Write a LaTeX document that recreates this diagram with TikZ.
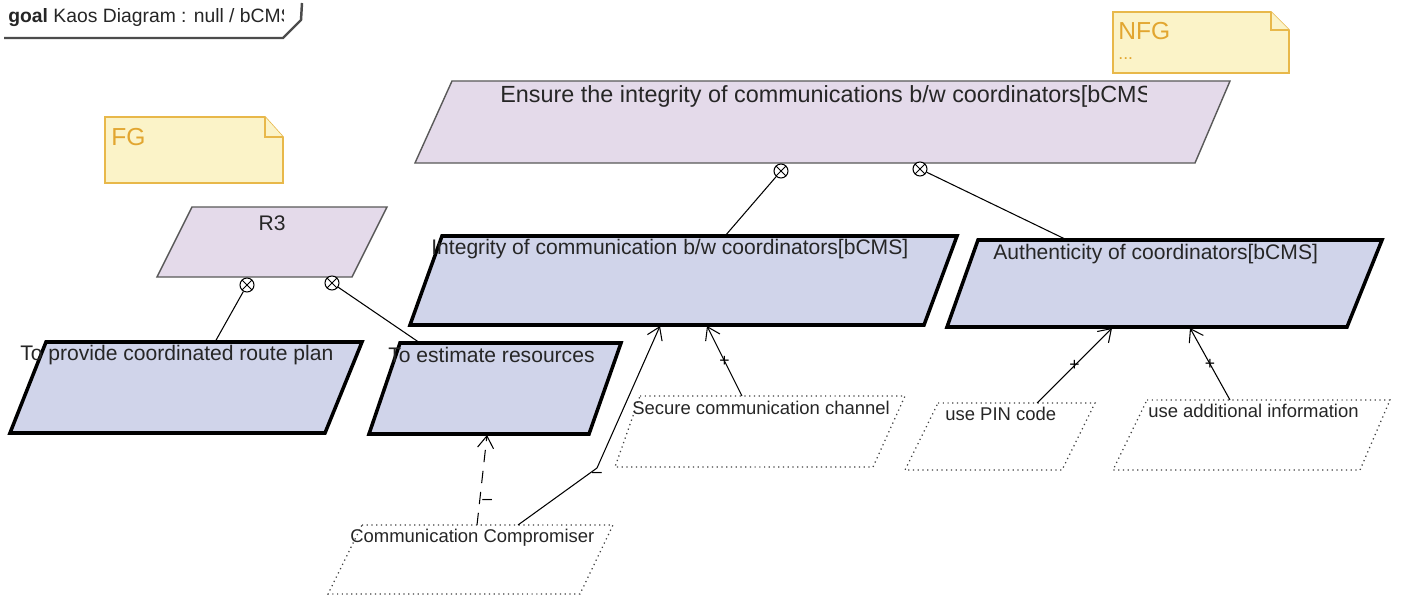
\documentclass[tikz,border=0pt]{standalone}
\usepackage{fontspec}
\setmainfont{Liberation Sans}
\usetikzlibrary{arrows.meta}
\definecolor{goalblue}{RGB}{208,212,234}
\definecolor{goallav}{RGB}{228,218,234}
\definecolor{notefill}{RGB}{251,243,200}
\definecolor{noteline}{RGB}{232,184,74}
\definecolor{notetext}{RGB}{226,166,48}
\begin{document}
\begin{tikzpicture}[x=0.02cm,y=-0.02cm,
    softgoal/.style={fill=goallav,draw=black!65,line width=0.8pt},
    leafgoal/.style={fill=goalblue,draw=black,line width=2pt},
    obstacle/.style={draw=black!75,dotted,line width=0.7pt},
    notebox/.style={fill=notefill,draw=noteline,line width=0.9pt},
    lbl/.style={anchor=west,inner sep=0pt,text=black!85,font=\fontsize{12}{14}\selectfont},
    smalllbl/.style={lbl,font=\fontsize{10.5}{12}\selectfont},
    notelbl/.style={anchor=west,inner sep=0pt,text=notetext,font=\fontsize{14}{16}\selectfont},
    refine/.style={circle,draw,fill=white,line width=0.6pt,minimum size=0.28cm,inner sep=0pt,
        path picture={\draw[line width=0.5pt]
            (path picture bounding box.north west) -- (path picture bounding box.south east)
            (path picture bounding box.north east) -- (path picture bounding box.south west);}},
    link/.style={line width=0.6pt},
    contrib/.style={line width=0.6pt,-{Straight Barb[length=2.4mm,width=3.2mm]}},
    sign/.style={inner sep=1pt,font=\fontsize{10}{10}\selectfont}]

    \useasboundingbox[fill=white] (0,0) rectangle (1406,598);

    % Draw the diagram tab
    \begin{scope}
        \clip (0,0) rectangle (283,40);
        \node[lbl,font=\fontsize{11}{13}\selectfont] (title) at (8,18) {\textbf{goal} Kaos Diagram : null / bCMS};
    \end{scope}
    \draw[line width=1.4pt,black!70] (4,38) -- (283,38) -- (301,20) -- (302,3);

    % Draw the two notes
    \draw[notebox] (105,117) -- (265,117) -- (283,137) -- (283,183) -- (105,183) -- cycle;
    \draw[notebox] (265,117) -- (265,137) -- (283,137);
    \node[notelbl] (fg) at (111,137) {FG};

    \draw[notebox] (1113,12) -- (1271,12) -- (1289,30) -- (1289,73) -- (1113,73) -- cycle;
    \draw[notebox] (1271,12) -- (1271,30) -- (1289,30);
    \node[notelbl] (nfg) at (1118,31) {NFG};
    \node[notelbl,font=\fontsize{10}{12}\selectfont] (nfgdots) at (1118,59) {...};

    % Draw the top goal and R3
    \draw[softgoal] (452,81) -- (1230,81) -- (1195,163) -- (415,163) -- cycle;
    \begin{scope}
        \clip (452,81) rectangle (1146,163);
        \node[lbl,font=\fontsize{13.3}{15}\selectfont] (ensure) at (500,96) {Ensure the integrity of communications b/w coordinators[bCMS};
    \end{scope}

    \draw[softgoal] (192,207) -- (387,207) -- (352,277) -- (157,277) -- cycle;
    \node[lbl,anchor=center] (r3) at (272,223) {R3};

    % Draw the four sub-goals
    \draw[leafgoal] (46,342) -- (362,342) -- (325,433) -- (10,433) -- cycle;
    \node[lbl] (route) at (20,355) {To provide coordinated route plan};

    \draw[leafgoal] (400,343) -- (621,343) -- (589,434) -- (369,434) -- cycle;
    \node[lbl] (resources) at (388,355) {To estimate resources};

    \draw[leafgoal] (442,236) -- (957,236) -- (924,325) -- (410,325) -- cycle;
    \node[lbl] (integrity) at (431,249) {Integrity of communication b/w coordinators[bCMS]};

    \draw[leafgoal] (978,240) -- (1382,240) -- (1347,327) -- (947,327) -- cycle;
    \node[lbl] (authentic) at (993,254) {Authenticity of coordinators[bCMS]};

    % Draw the dotted boxes
    \draw[obstacle] (640,396) -- (905,396) -- (873,467) -- (615,467) -- cycle;
    \node[smalllbl] (secure) at (632,408) {Secure communication channel};

    \draw[obstacle] (938,403) -- (1095,403) -- (1062,470) -- (905,470) -- cycle;
    \node[smalllbl] (pin) at (945,414) {use PIN code};

    \draw[obstacle] (1147,400) -- (1390,400) -- (1360,470) -- (1113,470) -- cycle;
    \node[smalllbl] (addinfo) at (1148,411) {use additional information};

    \draw[obstacle] (362,525) -- (613,525) -- (580,594) -- (328,594) -- cycle;
    \node[smalllbl] (comp) at (350,538) {Communication Compromiser};

    % Draw the refinement circles
    \node[refine] (ref1) at (781,171) {};
    \node[refine] (ref2) at (920,169) {};
    \node[refine] (ref3) at (247,285) {};
    \node[refine] (ref4) at (332,283) {};

    % Points on the box edges
    \coordinate (intTop) at (725,236);
    \coordinate (authTop) at (1067,240);
    \coordinate (routeTop) at (215,342);
    \coordinate (resTop) at (420,343);
    \coordinate (intBotA) at (660,326);
    \coordinate (intBotB) at (707,326);
    \coordinate (authBotA) at (1112,328);
    \coordinate (authBotB) at (1190,328);
    \coordinate (resBot) at (487,435);
    \coordinate (secTop) at (742,396);
    \coordinate (pinTop) at (1037,403);
    \coordinate (addTop) at (1230,400);
    \coordinate (compTopA) at (518,525);
    \coordinate (compTopB) at (477,525);
    \coordinate (bend) at (597,468);

    % Draw the refinement links
    \draw[link] (ref1) -- (intTop);
    \draw[link] (ref2) -- (authTop);
    \draw[link] (ref3) -- (routeTop);
    \draw[link] (ref4) -- (resTop);

    % Draw the contribution links
    \draw[contrib] (secTop) -- node[sign] (p1) {+} (intBotB);
    \draw[contrib] (pinTop) -- node[sign] (p2) {+} (authBotA);
    \draw[contrib] (addTop) -- node[sign] (p3) {+} (authBotB);
    \draw[contrib] (compTopA) -- (bend) node[sign,below=1pt] (m1) {–} -- (intBotA);
    \draw[contrib,dash pattern=on 7pt off 5pt] (compTopB) -- node[sign,pos=0.3,anchor=west,yshift=-2pt] (m2) {–} (resBot);

\end{tikzpicture}
\end{document}
